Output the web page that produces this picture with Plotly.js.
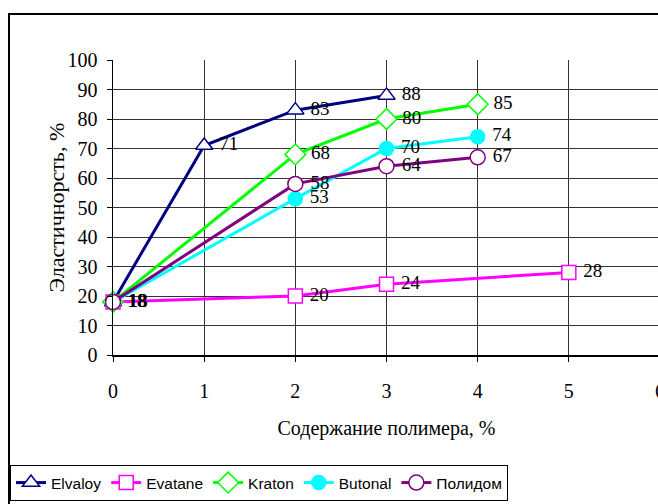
<!DOCTYPE html>
<html>
<head>
<meta charset="utf-8">
<script src="https://cdn.plot.ly/plotly-3.0.1.min.js"></script>
<style>
html,body{margin:0;padding:0;overflow:hidden;background:#fff;width:658px;height:504px;}
#chart{position:absolute;left:0;top:0;width:670px;height:530px;}
#frame{position:absolute;left:8px;top:13px;width:700px;height:600px;border-left:2px solid #000;border-top:2px solid #000;pointer-events:none;}
</style>
</head>
<body>
<div id="chart"></div>
<div id="frame"></div>
<script>
// Data
const seriesNames = ["Elvaloy", "Evatane", "Kraton", "Butonal", "Полидом"];
const elvaloyX = [0, 1, 2, 3];
const elvaloyY = [18, 71, 83, 88];
const evataneX = [0, 2, 3, 5];
const evataneY = [18, 20, 24, 28];
const kratonX = [0, 2, 3, 4];
const kratonY = [18, 68, 80, 85];
const butonalX = [0, 2, 3, 4];
const butonalY = [18, 53, 70, 74];
const polidomX = [0, 2, 3, 4];
const polidomY = [18, 58, 64, 67];
const xTicks = [0, 1, 2, 3, 4, 5, 6];
const yTicks = [0, 10, 20, 30, 40, 50, 60, 70, 80, 90, 100];
const xTitle = "Содержание полимера, %";
const yTitle = "Эластичнорсть, %";

const serif = "Liberation Serif, Times New Roman, serif";
const sans = "Liberation Sans, Arial, sans-serif";

function mk(name, x, y, color, symbol, fill, size) {
  return {
    type: "scatter", mode: "lines+markers+text", name: name,
    x: x, y: y, text: y.map(v => "\u00A0" + v), textposition: "middle right",
    textfont: {family: serif, size: 19, color: "#000"},
    line: {color: color, width: 3},
    marker: {symbol: symbol, size: size, color: fill, line: {color: color, width: 1.5}},
    cliponaxis: false
  };
}

const traces = [
  mk(seriesNames[0], elvaloyX, elvaloyY, "#000080", "triangle-up", "#fff", 15),
  mk(seriesNames[1], evataneX, evataneY, "#FF00FF", "square", "#fff", 14),
  mk(seriesNames[2], kratonX, kratonY, "#00FF00", "diamond", "#fff", 16),
  mk(seriesNames[3], butonalX, butonalY, "#00FFFF", "circle", "#00FFFF", 14),
  mk(seriesNames[4], polidomX, polidomY, "#800080", "circle", "#fff", 15)
];

const layout = {
  width: 670, height: 530,
  margin: {l: 113, r: 10, t: 60, b: 175},
  paper_bgcolor: "#fff", plot_bgcolor: "#fff",
  showlegend: true,
  xaxis: {
    range: [0, 6], tickvals: xTicks, ticktext: xTicks.map(String),
    showgrid: true, gridcolor: "#333", gridwidth: 1,
    showline: true, linecolor: "#000", linewidth: 1.5,
    ticks: "outside", ticklen: 5, tickcolor: "#000",
    ticklabelstandoff: 12,
    zeroline: false,
    tickfont: {family: serif, size: 20, color: "#000"},
    title: {text: xTitle, font: {family: serif, size: 20, color: "#000"}, standoff: 20}
  },
  yaxis: {
    range: [0, 100], tickvals: yTicks, ticktext: yTicks.map(String),
    showgrid: true, gridcolor: "#333", gridwidth: 1,
    showline: true, linecolor: "#000", linewidth: 1.5,
    ticks: "outside", ticklen: 5, tickcolor: "#000",
    ticklabelstandoff: 5,
    zeroline: false,
    tickfont: {family: serif, size: 20, color: "#000"}
  },
  annotations: [{
    text: yTitle, xref: "paper", yref: "paper", x: -0.1024, y: 0.5,
    xanchor: "center", yanchor: "middle", textangle: -90, showarrow: false,
    font: {family: serif, size: 22, color: "#000"}
  }],
  legend: {
    orientation: "h", x: -0.1883, xanchor: "left", y: -0.3729, yanchor: "top",
    bordercolor: "#000", borderwidth: 1, bgcolor: "#fff",
    font: {family: sans, size: 15.5, color: "#000"},
    itemclick: false
  }
};

Plotly.newPlot("chart", traces, layout, {displayModeBar: false, staticPlot: true});
</script>
</body>
</html>
